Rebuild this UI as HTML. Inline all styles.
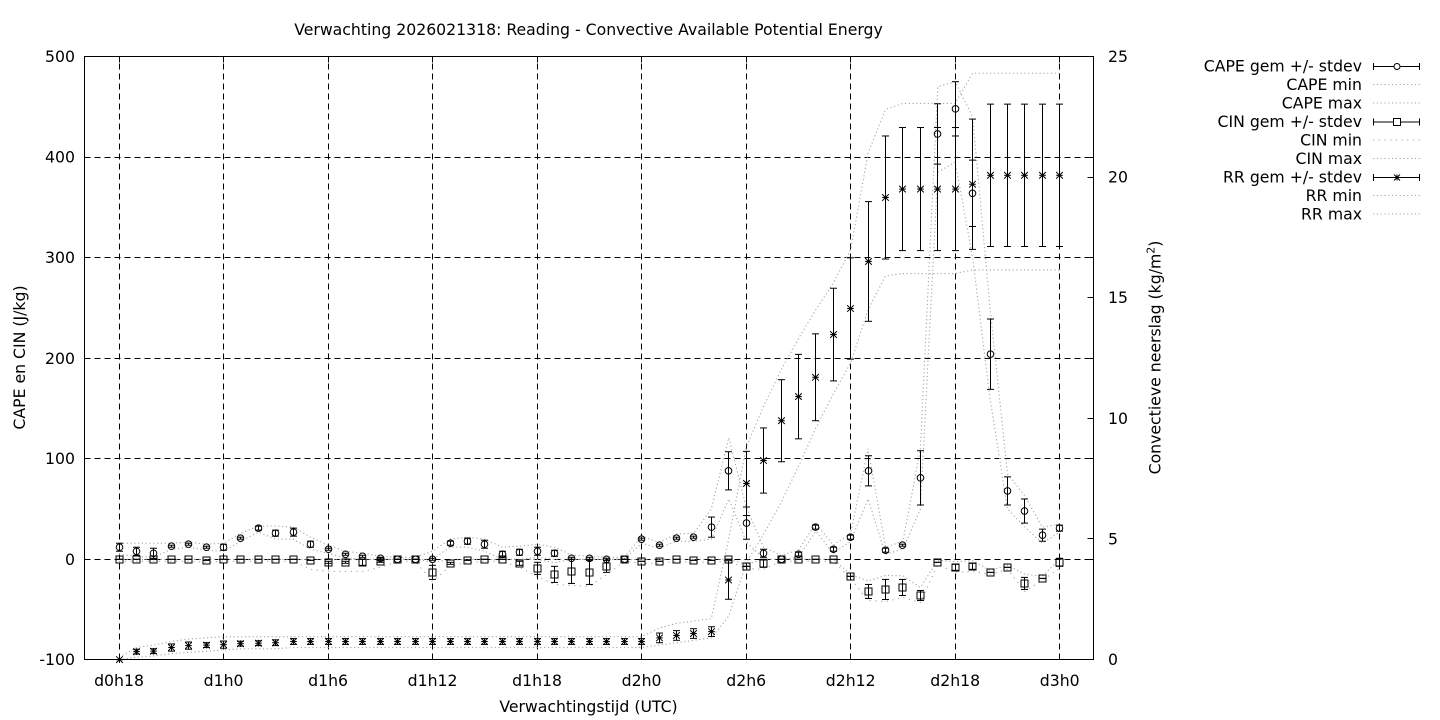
<!DOCTYPE html>
<html>
<head>
<meta charset="utf-8">
<style>
html,body{margin:0;padding:0;background:#fff;}
svg{display:block;}
text{font-family:"DejaVu Sans","Liberation Sans",sans-serif;font-size:15.7px;fill:#000;}
</style>
</head>
<body>
<svg id="svg" width="1440" height="720" viewBox="0 0 1440 720" xmlns="http://www.w3.org/2000/svg">
<rect x="0" y="0" width="1440" height="720" fill="#fff"/>
<g id="g"></g>
<!-- title -->
<text x="588.5" y="35" text-anchor="middle">Verwachting 2026021318: Reading - Convective Available Potential Energy</text>
<!-- left tick labels -->
<g text-anchor="end">
<text x="75" y="62">500</text>
<text x="75" y="162.5">400</text>
<text x="75" y="263">300</text>
<text x="75" y="364">200</text>
<text x="75" y="464">100</text>
<text x="75" y="565">0</text>
<text x="75" y="665">-100</text>
</g>
<!-- right tick labels -->
<g text-anchor="start">
<text x="1108" y="62">25</text>
<text x="1108" y="182.5">20</text>
<text x="1108" y="303">15</text>
<text x="1108" y="424">10</text>
<text x="1108" y="544.5">5</text>
<text x="1108" y="665">0</text>
</g>
<!-- x tick labels -->
<g text-anchor="middle">
<text x="119" y="686">d0h18</text>
<text x="223.6" y="686">d1h0</text>
<text x="328.1" y="686">d1h6</text>
<text x="432.6" y="686">d1h12</text>
<text x="537.1" y="686">d1h18</text>
<text x="641.6" y="686">d2h0</text>
<text x="746.2" y="686">d2h6</text>
<text x="850.7" y="686">d2h12</text>
<text x="955.2" y="686">d2h18</text>
<text x="1059.7" y="686">d3h0</text>
</g>
<!-- axis labels -->
<text x="588.5" y="712" text-anchor="middle">Verwachtingstijd (UTC)</text>
<text transform="translate(25,357.5) rotate(-90)" text-anchor="middle">CAPE en CIN (J/kg)</text>
<text transform="translate(1160.5,357.5) rotate(-90)" text-anchor="middle">Convectieve neerslag (kg/m<tspan font-size="11" dy="-6">2</tspan><tspan dy="6">)</tspan></text>
<!-- legend -->
<g text-anchor="end">
<text x="1362" y="71.5">CAPE gem +/- stdev</text>
<text x="1362" y="90">CAPE min</text>
<text x="1362" y="108.5">CAPE max</text>
<text x="1362" y="127">CIN gem +/- stdev</text>
<text x="1362" y="145.5">CIN min</text>
<text x="1362" y="164">CIN max</text>
<text x="1362" y="182.5">RR gem +/- stdev</text>
<text x="1362" y="201">RR min</text>
<text x="1362" y="219.5">RR max</text>
</g>
</svg>
<script>
(function(){
var g=document.getElementById('g');
var s='';
function X(h){return 84.2+(h-16)*17.42;}
function Y1(v){return 559.3-v*1.0055;}
function Y2(r){return 659.6-r*24.13;}
function c(v){return Math.round(v-0.5)+0.5;}
function L(x1,y1,x2,y2,st){s+='<line x1="'+x1.toFixed(2)+'" y1="'+y1.toFixed(2)+'" x2="'+x2.toFixed(2)+'" y2="'+y2.toFixed(2)+'" '+(st||'stroke="#000" stroke-width="1"')+'/>';}
var grid='stroke="#000" stroke-width="1" stroke-dasharray="6,4"';
var xt=[18,24,30,36,42,48,54,60,66,72];
xt.forEach(function(h){var x=c(X(h));L(x,659.5,x,56.5,grid);});
[400,300,200,100,0].forEach(function(v){var y=c(Y1(v));L(84.5,y,1093.5,y,grid);});
xt.forEach(function(h){var x=c(X(h));L(x,659.5,x,653.5);L(x,56.5,x,62.5);});
[500,400,300,200,100,0,-100].forEach(function(v){var y=c(Y1(v));L(84.5,y,90.5,y);L(1093.5,y,1087.5,y);});
[0,5,10,15,20,25].forEach(function(r){var y=c(Y2(r));L(1093.5,y,1087.5,y);});

var cape=[12,8,6,13,15,12,12,21,31,26,27,15,10,5,3,1,0,0,0,16,18,15,5,7,8,6,1,1,0,0,20,14,21,22,32,88,36,6,0,5,32,10,22,88,9,14,81,423,448,364,204,68,48,24,31];
var capesd=[4,4,5,1,1,1,3,1,2,3,4,3,1,1,1,1,0,0,1,2,3,4,3,3,4,3,1,1,1,0,1,1,1,1,10,19,16,4,0,2,2,2,2,15,2,1,27,30,27,33,35,14,12,6,3];
var cmax=[16,16,16,16,17,15,16,26,33,33,32,22,14,8,6,3,2,2,8,20,22,20,12,13,15,12,4,3,2,2,23,17,25,26,50,121,52,12,4,9,36,14,26,110,12,18,110,470,475,440,250,85,63,32,35];
var cmin=[5,3,2,10,12,9,8,18,27,20,20,10,6,1,0,0,0,0,0,12,12,8,0,0,2,0,0,0,0,0,16,11,18,18,20,60,18,0,0,2,28,6,18,60,5,10,50,385,395,300,160,50,32,16,27];
var cin=[0,0,0,0,0,-1,0,0,0,0,0,-1,-3,-3,-3,-2,0,0,-13,-4,-1,0,0,-4,-9,-15,-12,-13,-7,0,-2,-2,0,-1,-1,0,-7,-4,0,0,0,0,-17,-32,-30,-28,-36,-3,-8,-7,-13,-8,-24,-19,-3];
var cinsd=[0,0,0,0,0,0,0,0,0,0,0,0,1,1,3,1,0,0,7,1,0,0,0,2,6,8,12,12,6,0,0,0,0,0,0,0,0,4,0,0,0,0,0,7,10,8,5,0,3,3,0,0,6,0,4];
var cinmax=[],cinmin=[];
for(var i=0;i<55;i++){cinmax.push(Math.min(0,cin[i]+cinsd[i]*1.2+2));cinmin.push(cin[i]-cinsd[i]-2);}
cinmin[11]=Math.min(cinmin[11],-10);cinmin[12]=-12;cinmin[13]=-12;cinmin[14]=-12;cinmin[15]=-8;
var rr=[0,0.33,0.35,0.5,0.58,0.6,0.62,0.66,0.68,0.7];
for(i=0;i<21;i++)rr.push(0.75);
rr=rr.concat([0.9,1.0,1.08,1.16,3.3,7.3,8.25,9.9,10.9,11.7,13.47,14.55,16.5,19.15,19.5,19.5,19.5,19.5,19.7,20.07,20.07,20.07,20.07,20.07]);
var rrsd=[0,0.1,0.1,0.15,0.15,0.1,0.15,0.1,0.1,0.12];
for(i=0;i<21;i++)rrsd.push(0.12);
rrsd=rrsd.concat([0.2,0.2,0.2,0.2,0.8,1.33,1.35,1.7,1.75,1.8,1.92,2.1,2.48,2.55,2.55,2.55,2.55,2.55,2.7,2.95,2.95,2.95,2.95,2.95]);
var rrmax=[0.1,0.5,0.6,0.75,0.85,0.9,0.95,0.95,0.95,0.95];
for(i=0;i<21;i++)rrmax.push(0.95);
rrmax=rrmax.concat([1.3,1.5,1.6,1.7,5,8.8,10.5,12.0,13.3,14.5,15.6,17.0,21,22.8,23.05,23.05,23.05,23.05,24.3,24.3,24.3,24.3,24.3,24.3]);
var rrmin=[0,0.1,0.15,0.25,0.3,0.35,0.4,0.45,0.45,0.45];
for(i=0;i<21;i++)rrmin.push(0.5);
rrmin=rrmin.concat([0.6,0.7,0.8,0.9,1.8,4.0,5.2,6.5,8.0,9.6,11.0,12.3,14.5,15.9,16.0,16.0,16.0,16.0,16.15,16.15,16.15,16.15,16.15,16.15]);

function poly(arr,Y,dash){var p=[];for(var i=0;i<arr.length;i++){p.push(X(18+i).toFixed(2)+','+Y(arr[i]).toFixed(2));}
 s+='<polyline points="'+p.join(' ')+'" fill="none" stroke="#a6a6a6" stroke-width="1.1" stroke-dasharray="'+(dash||'1.2,2.6')+'"/>';}
poly(cmin,Y1);poly(cmax,Y1);
poly(cinmin,Y1,'1.2,4.5');poly(cinmax,Y1);
poly(rrmin,Y2);poly(rrmax,Y2);

function err(arr,sd,Y){for(var i=0;i<arr.length;i++){var x=c(X(18+i));var yt=Y(arr[i]+sd[i]),yb=Y(arr[i]-sd[i]);
 L(x,yt,x,yb);L(x-3.5,yt,x+3.5,yt);L(x-3.5,yb,x+3.5,yb);}}
err(cape,capesd,Y1);err(cin,cinsd,Y1);err(rr,rrsd,Y2);

function circ(x,y,r){s+='<circle cx="'+x.toFixed(2)+'" cy="'+y.toFixed(2)+'" r="'+r+'" fill="none" stroke="#000" stroke-width="1"/>';}
function sq(x,y,h){s+='<rect x="'+(x-h).toFixed(2)+'" y="'+(y-h).toFixed(2)+'" width="'+(2*h)+'" height="'+(2*h)+'" fill="none" stroke="#000" stroke-width="1"/>';}
function ast(x,y,h){L(x-h,y,x+h,y);L(x,y-h,x,y+h);L(x-h,y-h,x+h,y+h);L(x-h,y+h,x+h,y-h);}
for(i=0;i<55;i++){var x=c(X(18+i));
 circ(x,Y1(cape[i]),3.3);
 sq(x,c(Y1(cin[i])),3.5);
 ast(x,Y2(rr[i]),3.3);}

var rows=[66,84.5,103,121.5,140,158.5,177,195.5,214];
function legErr(y,kind){L(1373,y,1420,y);L(1373.5,y-3.5,1373.5,y+3.5);L(1419.5,y-3.5,1419.5,y+3.5);
 if(kind==0){s+='<circle cx="1397" cy="'+y+'" r="3" fill="#fff" stroke="#000" stroke-width="1"/>';}
 if(kind==1){s+='<rect x="1393.5" y="'+(y-3.5)+'" width="7" height="7" fill="#fff" stroke="#000" stroke-width="1"/>';}
 if(kind==2){ast(1397,y,3);}}
function legDot(y,dash){s+='<line x1="1373" y1="'+y+'" x2="1420" y2="'+y+'" stroke="#a6a6a6" stroke-width="1.1" stroke-dasharray="'+(dash||'1.2,2.6')+'"/>';}
legErr(rows[0]+0.5,0);legDot(rows[1]);legDot(rows[2]);
legErr(rows[3]+0.5,1);legDot(rows[4],'1.2,4.5');legDot(rows[5]);
legErr(rows[6]+0.5,2);legDot(rows[7]);legDot(rows[8]);

s+='<rect x="84.5" y="56.5" width="1009" height="603" fill="none" stroke="#000" stroke-width="1"/>';
g.innerHTML=s;
})();
</script>
</body>
</html>
